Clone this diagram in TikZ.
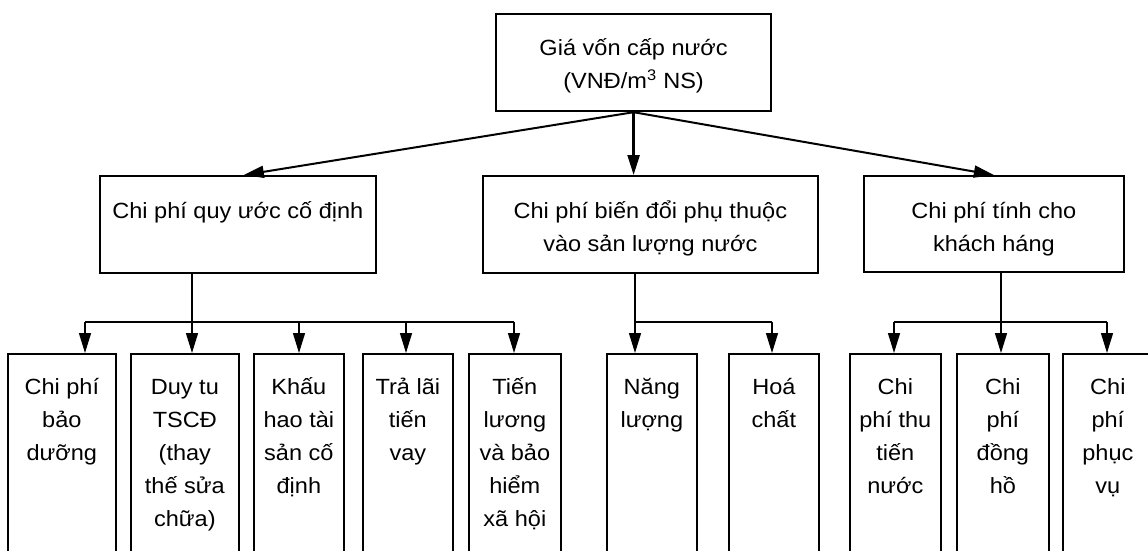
\documentclass[tikz,border=0pt]{standalone}
\usepackage{fontspec}
\setmainfont{Liberation Sans}[FakeStretch=1.07]
\usetikzlibrary{arrows.meta,calc}
\tikzset{
  box/.style={draw, line width=1.7pt, inner sep=0pt, anchor=north west},
  lbl/.style={anchor=base, inner sep=0pt, font=\fontsize{22}{33}\selectfont},
  conn/.style={line width=1.4pt},
  arr/.style={conn, -{Triangle[length=20pt,width=12pt]}},
  toparr/.style={line width=2pt, -{Triangle[length=20pt,width=12pt]}},
}
\newcommand{\boxlines}[2]{\parbox[t]{#1}{\centering #2}}
\begin{document}
\begin{tikzpicture}[x=1pt,y=-1pt]
\useasboundingbox (0,0) rectangle (1148,550);
\clip (0,0) rectangle (1148,550);
% top
\node[box, line width=2.2pt, minimum width=275pt, minimum height=97pt] (T) at (495,13) {};
\node[lbl] (Tt) at ($(T.north)+(0,42)$) {\boxlines{260pt}{Giá vốn cấp nước\\(VNĐ/m\textsuperscript{3} NS)}};
% level 2
\node[box, minimum width=276pt, minimum height=97pt] (A) at (99,175) {};
\node[lbl] (At) at ($(A.north)+(0,43)$) {\boxlines{270pt}{Chi phí quy ước cố định}};
\node[box, minimum width=335pt, minimum height=97pt] (B) at (482,175) {};
\node[lbl] (Bt) at ($(B.north)+(0,43)$) {\boxlines{330pt}{Chi phí biến đổi phụ thuộc\\vào sản lượng nước}};
\node[box, minimum width=260pt, minimum height=96pt] (C) at (863,175) {};
\node[lbl] (Ct) at ($(C.north)+(0,43)$) {\boxlines{255pt}{Chi phí tính cho\\khách háng}};
% level 3
\node[box, minimum width=108pt, minimum height=220pt] (b1) at (7,353) {};
\node[box, minimum width=108pt, minimum height=220pt] (b2) at (130,353) {};
\node[box, minimum width=90pt, minimum height=220pt] (b3) at (253,353) {};
\node[box, minimum width=90pt, minimum height=220pt] (b4) at (362,353) {};
\node[box, minimum width=92pt, minimum height=220pt] (b5) at (468,353) {};
\node[box, minimum width=90pt, minimum height=220pt] (b6) at (606,353) {};
\node[box, minimum width=90pt, minimum height=220pt] (b7) at (728,353) {};
\node[box, minimum width=91pt, minimum height=220pt] (b8) at (849,353) {};
\node[box, minimum width=92pt, minimum height=220pt] (b9) at (956,353) {};
\node[box, minimum width=90pt, minimum height=220pt] (b10) at (1062,353) {};
\node[lbl] (t1) at ($(b1.north)+(0,41)$) {\boxlines{104pt}{Chi phí\\bảo\\dưỡng}};
\node[lbl] (t2) at ($(b2.north)+(0,41)$) {\boxlines{104pt}{Duy tu\\TSCĐ\\(thay\\thế sửa\\chữa)}};
\node[lbl] (t3) at ($(b3.north)+(0,41)$) {\boxlines{88pt}{Khấu\\hao tài\\sản cố\\định}};
\node[lbl] (t4) at ($(b4.north)+(0,41)$) {\boxlines{88pt}{Trả lãi\\tiến\\vay}};
\node[lbl] (t5) at ($(b5.north)+(0,41)$) {\boxlines{90pt}{Tiến\\lương\\và bảo\\hiểm\\xã hội}};
\node[lbl] (t6) at ($(b6.north)+(0,41)$) {\boxlines{88pt}{Năng\\lượng}};
\node[lbl] (t7) at ($(b7.north)+(0,41)$) {\boxlines{88pt}{Hoá\\chất}};
\node[lbl] (t8) at ($(b8.north)+(0,41)$) {\boxlines{89pt}{Chi\\phí thu\\tiến\\nước}};
\node[lbl] (t9) at ($(b9.north)+(0,41)$) {\boxlines{90pt}{Chi\\phí\\đồng\\hồ}};
\node[lbl] (t10) at ($(b10.north)+(0,41)$) {\boxlines{88pt}{Chi\\phí\\phục\\vụ}};
% top arrows
\draw[toparr] (T.south) -- ([xshift=6pt]A.north);
\draw[toparr, line width=2.4pt] (T.south) -- (T.south |- B.north);
\draw[toparr] (T.south) -- (C.north);
% group A
\coordinate (jA) at (192,322);
\coordinate (a1) at (85,322);
\coordinate (a2) at (192,322);
\coordinate (a3) at (299,322);
\coordinate (a4) at (406,322);
\coordinate (a5) at (514,322);
\draw[conn] (A.south -| jA) -- (jA);
\draw[conn] (a1) -- (a5);
\draw[arr] (a1) -- (a1 |- b1.north);
\draw[arr] (a2) -- (a2 |- b2.north);
\draw[arr] (a3) -- (a3 |- b3.north);
\draw[arr] (a4) -- (a4 |- b4.north);
\draw[arr] (a5) -- (a5 |- b5.north);
% group B
\coordinate (c1) at (635,322);
\coordinate (c2) at (772,322);
\draw[conn] (B.south -| c1) -- (c1);
\draw[conn] (c1) -- (c2);
\draw[arr] (c1) -- (c1 |- b6.north);
\draw[arr] (c2) -- (c2 |- b7.north);
% group C
\coordinate (d1) at (894,322);
\coordinate (d2) at (1001,322);
\coordinate (d3) at (1107,322);
\draw[conn] (C.south -| d2) -- (d2);
\draw[conn] (d1) -- (d3);
\draw[arr] (d1) -- (d1 |- b8.north);
\draw[arr] (d2) -- (d2 |- b9.north);
\draw[arr] (d3) -- (d3 |- b10.north);
\end{tikzpicture}
\end{document}
